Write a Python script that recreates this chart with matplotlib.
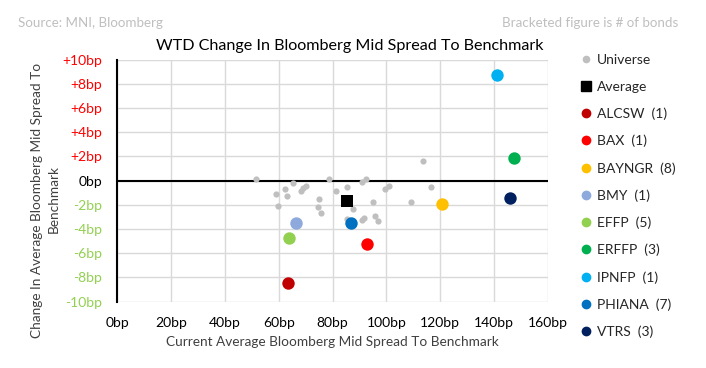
import matplotlib
matplotlib.use("Agg")
import matplotlib.pyplot as plt
from matplotlib.lines import Line2D

plt.rcParams['font.family'] = ['Lato', 'DejaVu Sans']

# Universe of bonds (grey dots): current spread (bp), WTD change (bp)
universe_x = [51.6, 65.4, 78.8, 59.1, 62.3, 63.0, 59.6, 68.3, 69.1, 70.0,
              75.1, 74.6, 75.6, 81.3, 85.3, 85.3, 90.9, 92.5, 94.9, 87.7,
              90.9, 91.5, 95.8, 97.0, 99.3, 101.0, 113.4, 109.1, 116.7]
universe_y = [0.15, -0.15, 0.15, -1.1, -0.7, -1.24, -2.1, -0.83, -0.63, -0.44,
              -1.51, -2.15, -2.7, -0.83, -0.55, -3.16, -0.13, 0.14, -1.74, -2.34,
              -3.24, -3.1, -2.92, -3.3, -0.69, -0.44, 1.65, -1.74, -0.55]

avg_x = [85.3]
avg_y = [-1.65]

# issuer averages
issuers = ["ALCSW", "BAX", "BAYNGR", "BMY", "EFFP", "ERFFP", "IPNFP", "PHIANA", "VTRS"]
n_bonds = [1, 1, 8, 1, 5, 3, 1, 7, 3]
issuer_x = [63.5, 92.7, 120.6, 66.3, 63.9, 147.4, 141.1, 86.8, 145.7]
issuer_y = [-8.45, -5.2, -1.95, -3.46, -4.7, 1.9, 8.7, -3.46, -1.4]
issuer_colors = ["#C00000", "#FF0000", "#FFC000", "#8EA9DB", "#92D050",
                 "#00B050", "#00B0F0", "#0070C0", "#002060"]

x_ticks = list(range(0, 161, 20))
y_ticks = list(range(-10, 11, 2))

fig = plt.figure(figsize=(7.06, 3.68), dpi=100)
ax = fig.add_axes([117.3 / 706, 1 - 301.7 / 368, (548 - 117.3) / 706, (301.7 - 59.7) / 368])

ax.set_xlim(0, 160)
ax.set_ylim(-10, 10)
ax.set_xticks(x_ticks)
ax.set_yticks(y_ticks)
ax.grid(True, color="#D9D9D9", linewidth=1)
ax.set_axisbelow(True)
for s in ["top", "right", "bottom"]:
    ax.spines[s].set_visible(False)
ax.spines["left"].set_linewidth(1.5)
ax.axhline(0, color="black", linewidth=1.5, zorder=1)
ax.tick_params(length=0, labelsize=10)
ax.tick_params(axis="y", pad=11)
ax.tick_params(axis="x", pad=11)

ax.set_xticklabels([f"{v}bp" for v in x_ticks], color="#000000")
ylabels = []
for v in y_ticks:
    ylabels.append(f"+{v}bp" if v > 0 else f"{v}bp")
ax.set_yticklabels(ylabels)
for lab, v in zip(ax.get_yticklabels(), y_ticks):
    if v > 0:
        lab.set_color("#FF0000")
    elif v < 0:
        lab.set_color("#92D050")
    else:
        lab.set_color("#000000")

ax.scatter(universe_x, universe_y, s=20, color="#BFBFBF", zorder=3, linewidths=0)
ax.scatter(avg_x, avg_y, s=70, marker="s", color="black", zorder=4, linewidths=0)
for xv, yv, c in zip(issuer_x, issuer_y, issuer_colors):
    ax.scatter([xv], [yv], s=80, color=c, zorder=5, linewidths=0)

ax.set_xlabel("Current Average Bloomberg Mid Spread To Benchmark", fontsize=9.8,
              color="#404040", labelpad=5)
fig.text(37 / 706, 1 - 200 / 368, "Change In Average Bloomberg Mid Spread To", rotation=90,
         ha="center", va="center", fontsize=9.8, color="#404040")
fig.text(54 / 706, 1 - 199 / 368, "Benchmark", rotation=90,
         ha="center", va="center", fontsize=9.8, color="#404040")

fig.text(350 / 706, 1 - 46 / 368, "WTD Change In Bloomberg Mid Spread To Benchmark",
         ha="center", va="center", fontsize=11.6, color="black")
fig.text(18 / 706, 1 - 23 / 368, "Source: MNI, Bloomberg", ha="left", va="center",
         fontsize=9.6, color="#BFBFBF")
fig.text(678 / 706, 1 - 23 / 368, "Bracketed figure is # of bonds", ha="right",
         va="center", fontsize=9.6, color="#BFBFBF")

handles = [Line2D([], [], marker="o", linestyle="", color="#BFBFBF", markersize=4.5),
           Line2D([], [], marker="s", linestyle="", color="black", markersize=6.5)]
labels = ["Universe", "Average"]
for name, n, c in zip(issuers, n_bonds, issuer_colors):
    handles.append(Line2D([], [], marker="o", linestyle="", color=c, markersize=6))
    labels.append(f"{name}  ({n})")
leg = fig.legend(handles, labels, loc="upper left", bbox_to_anchor=(578 / 706, 1 - 54 / 368),
                 frameon=False, fontsize=10, handletextpad=0.15, handlelength=1.2,
                 labelspacing=1.06, borderpad=0, borderaxespad=0)
for t in leg.get_texts():
    t.set_color("#262626")

fig.savefig("out.png", dpi=100)
